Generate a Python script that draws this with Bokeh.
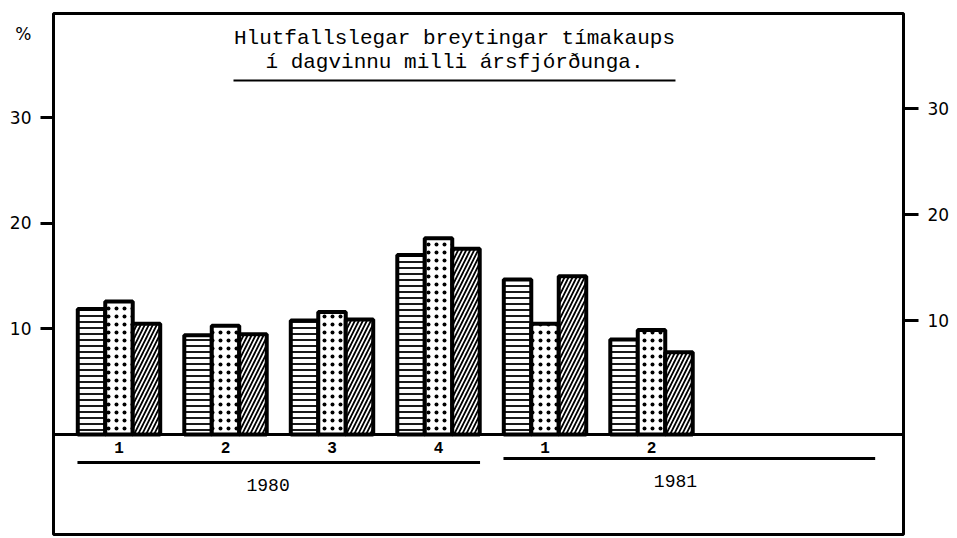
from bokeh.plotting import figure
from bokeh.models import Range1d, LinearAxis, FixedTicker, Span
from bokeh.embed import file_html
from bokeh.resources import INLINE
from bokeh.core.properties import value

# ---- data ----
quarters = ["1", "2", "3", "4", "1", "2"]
years = ["1980", "1981"]
year_groups = [[0, 3], [4, 5]]
series_a = [11.9, 9.4, 10.8, 17.0, 14.7, 9.0]   # horizontal hatch
series_b = [12.6, 10.3, 11.6, 18.6, 10.5, 9.9]  # dotted
series_c = [10.5, 9.5, 10.9, 17.6, 15.0, 7.8]   # diagonal hatch
left_ticks = [10, 20, 30]
right_ticks = [10, 20, 30]
unit_pos = 38
unit_label = "%"
title_lines = ["Hlutfallslegar breytingar tímakaups", "í dagvinnu milli ársfjórðunga."]

MONO = "Liberation Mono"
SANS = "DejaVu Sans"

p = figure(width=955, height=536,
           x_range=Range1d(-0.615, 7.366), y_range=Range1d(-9.48, 39.9),
           x_axis_type=None, y_axis_type=None,
           output_backend="svg", toolbar_location=None,
           min_border_left=53, min_border_right=52, min_border_top=13, min_border_bottom=2)
p.outline_line_color = "black"
p.outline_line_width = 3
p.outline_line_alpha = 1
p.background_fill_color = "white"
p.border_fill_color = "white"

# left axis: labels from major ticks (incl. the % sign), tick marks via minor ticks
la = LinearAxis(ticker=FixedTicker(ticks=left_ticks + [unit_pos], minor_ticks=left_ticks))
la.major_label_overrides = {unit_pos: unit_label}
la.axis_line_color = None
la.major_tick_line_color = None
la.major_tick_out = 0
la.major_tick_in = 0
la.minor_tick_out = 13
la.minor_tick_in = 0
la.minor_tick_line_width = 3
la.minor_tick_line_color = "black"
la.major_label_text_font = SANS
la.major_label_text_font_size = "17px"
la.major_label_text_color = "black"
la.major_label_standoff = 9
p.add_layout(la, "left")

# right axis (slightly offset scale, as in the original)
p.extra_y_ranges = {"r": Range1d(-10.19, 38.96)}
ra = LinearAxis(y_range_name="r", ticker=FixedTicker(ticks=right_ticks))
ra.axis_line_color = None
ra.major_tick_out = 15
ra.major_tick_in = 0
ra.major_tick_line_width = 3
ra.minor_tick_line_color = None
ra.major_label_text_font = SANS
ra.major_label_text_font_size = "17px"
ra.major_label_text_color = "black"
ra.major_label_standoff = 9
p.add_layout(ra, "right")

# baseline
p.add_layout(Span(location=0, dimension="width", line_color="black", line_width=3))

# bars
bw = 0.258
idx = list(range(len(quarters)))
styles = [(series_a, -bw, "-", 6, 1.8),
          (series_b, 0.0, ".", 8, 3.2),
          (series_c, bw, "/", 8, 1.8)]
for vals, off, pat, sc, wt in styles:
    p.vbar(x=[i + off for i in idx], top=vals, bottom=0, width=bw,
           fill_color="white", line_color="black", line_width=4,
           hatch_pattern=pat, hatch_scale=sc, hatch_weight=wt, hatch_color="black")

# quarter labels
p.text(x=idx, y=[-1.25] * len(idx), text=quarters,
       text_align="center", text_baseline="middle",
       text_font=value(MONO), text_font_style="bold", text_font_size="16px", text_color="black")

# year underlines and labels
x0 = [year_groups[0][0] - 0.39, year_groups[1][0] - 0.39]
x1 = [year_groups[0][1] + 0.39, 7.1]
p.segment(x0=x0, x1=x1, y0=[-2.65, -2.27], y1=[-2.65, -2.27], line_color="black", line_width=3)
p.text(x=[1.40, 5.225], y=[-4.83, -4.45], text=years,
       text_align="center", text_baseline="middle",
       text_font=value(MONO), text_font_size="18px", text_color="black")

# title
p.text(x=[3.15, 3.15], y=[37.5, 35.3], text=title_lines,
       text_align="center", text_baseline="middle",
       text_font=value(MONO), text_font_size="21px", text_color="black")
p.segment(x0=[1.075], x1=[5.225], y0=[33.55], y1=[33.55], line_color="black", line_width=2)

open("out.html", "w").write(file_html(p, INLINE))
